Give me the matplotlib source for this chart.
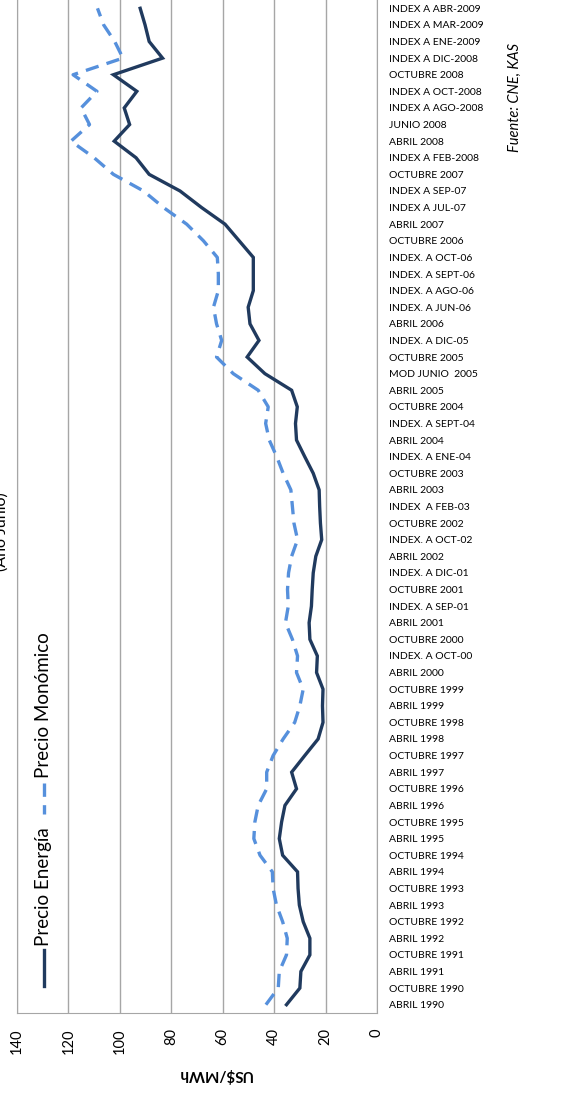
import matplotlib
matplotlib.use("Agg")
import matplotlib.pyplot as plt
from matplotlib.lines import Line2D

plt.rcParams['font.family'] = ['Lato', 'DejaVu Sans']

# categories, oldest first (drawn bottom to top)
categories = [
    "ABRIL 1990", "OCTUBRE 1990", "ABRIL 1991", "OCTUBRE 1991", "ABRIL 1992",
    "OCTUBRE 1992", "ABRIL 1993", "OCTUBRE 1993", "ABRIL 1994", "OCTUBRE 1994",
    "ABRIL 1995", "OCTUBRE 1995", "ABRIL 1996", "OCTUBRE 1996", "ABRIL 1997",
    "OCTUBRE 1997", "ABRIL 1998", "OCTUBRE 1998", "ABRIL 1999", "OCTUBRE 1999",
    "ABRIL 2000", "INDEX. A OCT-00", "OCTUBRE 2000", "ABRIL 2001", "INDEX. A SEP-01",
    "OCTUBRE 2001", "INDEX. A DIC-01", "ABRIL 2002", "INDEX. A OCT-02", "OCTUBRE 2002",
    "INDEX  A FEB-03", "ABRIL 2003", "OCTUBRE 2003", "INDEX. A ENE-04", "ABRIL 2004",
    "INDEX. A SEPT-04", "OCTUBRE 2004", "ABRIL 2005", "MOD JUNIO  2005", "OCTUBRE 2005",
    "INDEX. A DIC-05", "ABRIL 2006", "INDEX. A JUN-06", "INDEX. A AGO-06", "INDEX. A SEPT-06",
    "INDEX. A OCT-06", "OCTUBRE 2006", "ABRIL 2007", "INDEX A JUL-07", "INDEX A SEP-07",
    "OCTUBRE 2007", "INDEX A FEB-2008", "ABRIL 2008", "JUNIO 2008", "INDEX A AGO-2008",
    "INDEX A OCT-2008", "OCTUBRE 2008", "INDEX A DIC-2008", "INDEX A ENE-2009", "INDEX A MAR-2009",
    "INDEX A ABR-2009",
]

precio_energia = [
    35.2, 30.0, 29.6, 26.1, 26.1, 28.7, 30.2, 30.7, 30.9, 36.7,
    38.0, 37.1, 35.8, 31.3, 33.2, 28.1, 22.9, 21.0, 21.2, 21.0,
    23.5, 23.2, 26.1, 26.4, 25.5, 25.2, 24.8, 23.8, 21.5, 22.0,
    22.3, 22.5, 24.8, 28.1, 31.3, 31.7, 31.0, 33.2, 43.6, 50.5,
    45.9, 49.4, 50.1, 48.1, 48.1, 48.1, 53.6, 59.1, 68.2, 76.6,
    88.6, 93.7, 102.2, 96.2, 98.3, 93.4, 102.5, 83.4, 88.6, 90.2,
    92.1,
]

precio_monomico = [
    43.2, 38.4, 38.0, 35.2, 34.9, 36.7, 39.1, 40.4, 40.7, 45.5,
    47.9, 47.5, 46.2, 42.9, 42.9, 40.4, 36.5, 32.0, 30.0, 28.7,
    31.3, 30.9, 32.9, 35.6, 34.5, 34.8, 34.4, 33.2, 30.9, 32.3,
    32.9, 33.5, 36.5, 39.0, 41.9, 43.3, 42.3, 46.2, 55.9, 62.4,
    60.4, 62.4, 63.6, 61.7, 61.7, 62.1, 67.5, 74.0, 83.0, 90.8,
    102.5, 110.0, 119.0, 111.8, 115.1, 108.9, 118.2, 98.8, 102.0, 106.3,
    108.7,
]

value_ticks = [0, 20, 40, 60, 80, 100, 120, 140]

W, H = 570, 1093
fig = plt.figure(figsize=(W / 100, H / 100), dpi=100)
ax = fig.add_axes([17 / W, 1 - 1013 / H, 360 / W, 1013 / H])

pos = list(range(len(categories)))
ax.plot(precio_energia, pos, color='#203a5e', linewidth=2.4, solid_joinstyle='miter')
ax.plot(precio_monomico, pos, color='#5690dc', linewidth=2.4, dashes=(4, 2.5))

ax.set_xlim(140, 0)
ax.set_ylim(-0.5, len(categories) - 0.5)
ax.set_xticks(value_ticks)
ax.set_xticklabels([str(v) for v in value_ticks], rotation=90, fontsize=10.5)
ax.tick_params(axis='x', length=0, pad=11)
ax.grid(axis='x', color='#a6a6a6', linewidth=1)
ax.set_axisbelow(True)

ax.yaxis.tick_right()
ax.set_yticks(pos)
ax.set_yticklabels(categories, fontsize=7.5, ha='left')
ax.tick_params(axis='y', length=0, pad=9)

for side in ['left', 'bottom', 'right']:
    ax.spines[side].set_color('#a6a6a6')
ax.spines['top'].set_visible(False)

ax.set_xlabel('US$/MWh', rotation=180, fontsize=11, fontweight='bold')
ax.xaxis.set_label_coords((215 - 17) / 360, -(1067 - 1013) / 1013)

# legend, drawn by hand so it can stand on its side
def fy(py):
    return 1 - py / H

fig.add_artist(Line2D([44 / W, 44 / W], [fy(950), fy(986)], color='#203a5e',
                      linewidth=2.4, transform=fig.transFigure))
fig.text(44 / W, fy(946), 'Precio Energía', rotation=90, ha='center', va='bottom', fontsize=13.5)
fig.add_artist(Line2D([44 / W, 44 / W], [fy(783), fy(814)], color='#5690dc',
                      linewidth=2.4, dashes=(4, 2.5), transform=fig.transFigure))
fig.text(44 / W, fy(778), 'Precio Monómico', rotation=90, ha='center', va='bottom', fontsize=13.5)

fig.text(2 / W, fy(532), '(Año Junio)', rotation=90, ha='center', va='center', fontsize=11.5)
fig.text(515 / W, fy(97), 'Fuente: CNE, KAS', rotation=90, ha='center', va='center',
         fontsize=10.5, style='italic')

fig.savefig('out.png', dpi=100)
